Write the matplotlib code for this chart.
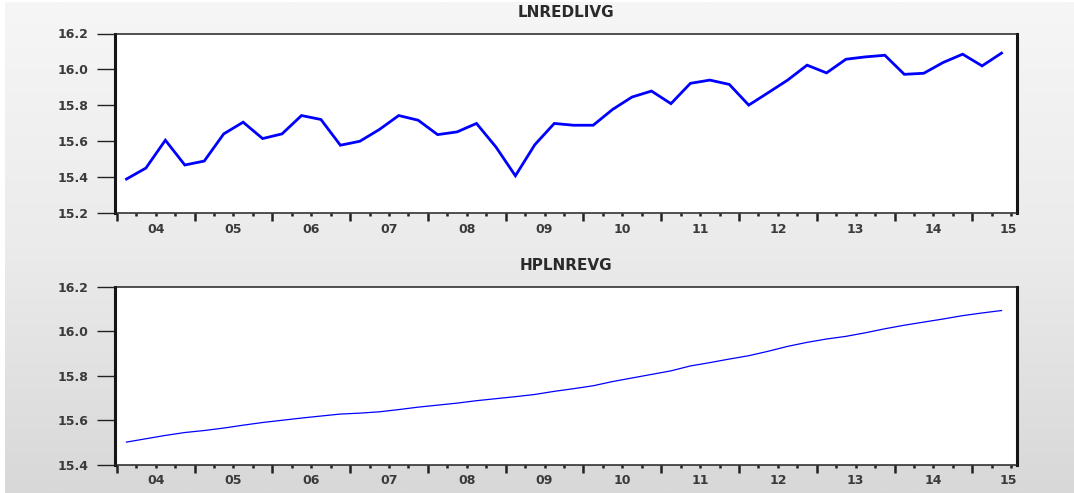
import numpy as np
import matplotlib
matplotlib.use("Agg")
import matplotlib.pyplot as plt
from matplotlib.ticker import FixedLocator
from matplotlib.colors import LinearSegmentedColormap
import matplotlib.transforms as mtransforms

# quarterly data, 2004Q1 .. 2015Q2
years = ["04", "05", "06", "07", "08", "09", "10", "11", "12", "13", "14", "15"]

lnredlivg = [15.391, 15.452, 15.607, 15.469, 15.491, 15.642, 15.707, 15.616,
             15.642, 15.744, 15.722, 15.579, 15.601, 15.666, 15.744, 15.718,
             15.638, 15.653, 15.700, 15.569, 15.409, 15.582, 15.700, 15.690,
             15.690, 15.778, 15.847, 15.880, 15.810, 15.923, 15.941, 15.917,
             15.802, 15.871, 15.941, 16.024, 15.981, 16.057, 16.070, 16.079,
             15.973, 15.979, 16.039, 16.085, 16.020, 16.091]

hplnrevg = [15.502, 15.517, 15.532, 15.545, 15.554, 15.565, 15.578, 15.590,
            15.600, 15.610, 15.619, 15.628, 15.632, 15.638, 15.648, 15.659,
            15.668, 15.677, 15.688, 15.697, 15.706, 15.716, 15.730, 15.742,
            15.755, 15.774, 15.790, 15.806, 15.822, 15.844, 15.859, 15.875,
            15.890, 15.910, 15.932, 15.950, 15.965, 15.977, 15.993, 16.011,
            16.027, 16.041, 16.055, 16.070, 16.082, 16.093]

yticks_top = [15.2, 15.4, 15.6, 15.8, 16.0, 16.2]
yticks_bot = [15.4, 15.6, 15.8, 16.0, 16.2]

W, H = 1074, 493
fig = plt.figure(figsize=(W / 100, H / 100), dpi=100, facecolor="white")

# grey gradient background like the EViews window
bg = fig.add_axes([5 / W, 0, 1 - 5 / W, 1 - 2 / H], zorder=-10)
grad = np.linspace(0, 1, 256).reshape(-1, 1)
cmap = LinearSegmentedColormap.from_list("bg", ["#f6f6f6", "#ebebeb", "#d8d8d8"])
bg.imshow(grad, aspect="auto", cmap=cmap, extent=[0, 1, 0, 1])
bg.axis("off")

nq = len(lnredlivg)
xq = np.arange(nq) + 0.5
xmin, xmax = -0.09, 46.28


def panel(top_px, bot_px, title, values, yticks, lw):
    ax = fig.add_axes([115 / W, 1 - bot_px / H, (1016.7 - 115) / W, (bot_px - top_px) / H])
    ax.set_facecolor("white")
    ax.plot(xq, values, color="#0000ff", lw=lw, solid_joinstyle="miter")
    ax.set_xlim(xmin, xmax)
    ax.set_ylim(yticks[0], yticks[-1])

    ax.yaxis.set_major_locator(FixedLocator(yticks))
    ax.set_yticklabels(["%.1f" % v for v in yticks], fontweight="semibold")
    ax.tick_params(axis="y", direction="out", length=13, width=1.0, pad=6,
                   labelsize=9, labelcolor="#3a3a3a", color="#222222")

    ax.xaxis.set_major_locator(FixedLocator(list(range(0, 47, 4))))
    ax.xaxis.set_minor_locator(FixedLocator([i for i in range(47) if i % 4]))
    ax.tick_params(axis="x", which="major", direction="out", length=5.5, width=1.8,
                   color="#222222", labelbottom=False)
    ax.tick_params(axis="x", which="minor", direction="out", length=2.5, width=1.8,
                   color="#222222")

    for side in ["left", "right"]:
        ax.spines[side].set_linewidth(2.2)
        ax.spines[side].set_color("#151515")
    for side in ["top", "bottom"]:
        ax.spines[side].set_linewidth(1.1)
        ax.spines[side].set_color("#222222")

    trans = mtransforms.blended_transform_factory(ax.transData, ax.transAxes)
    h = bot_px - top_px
    for k, yr in enumerate(years):
        c = 4 * k + 2
        if c + 1 > xmax:
            ax.text(xmax, -16 / h, yr, transform=trans, ha="right", va="center",
                    fontsize=9, color="#3a3a3a", fontweight="semibold")
        else:
            ax.text(c, -16 / h, yr, transform=trans, ha="center", va="center",
                    fontsize=9, color="#3a3a3a", fontweight="semibold")

    ax.text(0.5, 1 + 21.5 / h, title, transform=ax.transAxes, ha="center",
            va="center", fontsize=11, color="#2a2a2a", fontweight="bold")
    return ax


panel(33.5, 213.4, "LNREDLIVG", lnredlivg, yticks_top, 2.0)
panel(286.7, 464.8, "HPLNREVG", hplnrevg, yticks_bot, 0.9)

fig.savefig("out.png", dpi=100, facecolor=fig.get_facecolor())
